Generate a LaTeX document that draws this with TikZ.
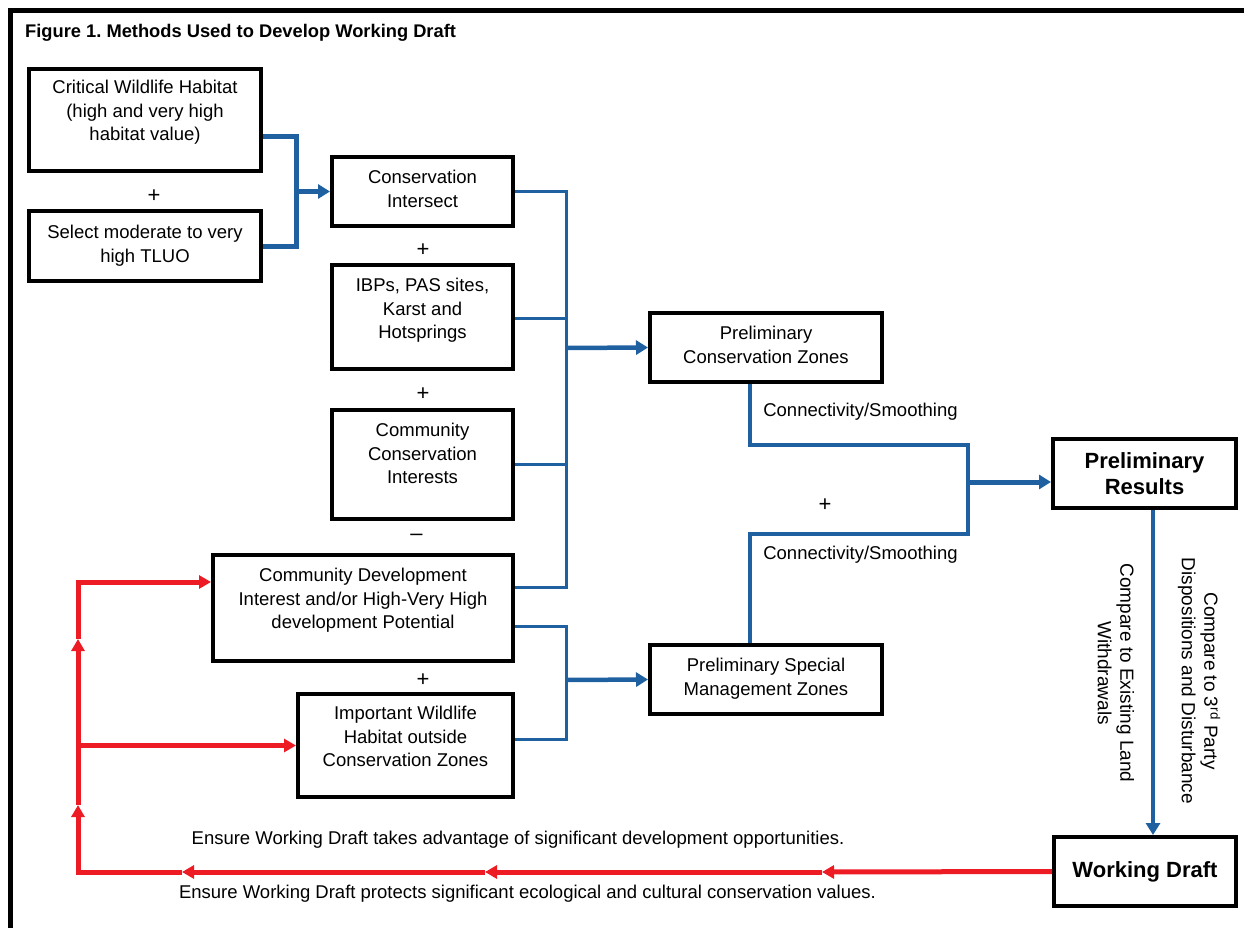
\documentclass[tikz,border=0pt]{standalone}
\usepackage{fontspec}
\setmainfont{Liberation Sans}
\usetikzlibrary{arrows.meta}
\definecolor{fblue}{RGB}{30,96,160}
\definecolor{fred}{RGB}{237,28,36}
\frenchspacing
\begin{document}
\begin{tikzpicture}[x=1pt,y=-1pt,
  box/.style={draw, line width=4pt, inner sep=0pt, fill=white},
  txt/.style={font=\fontsize{18.5}{23.5}\selectfont, align=center, inner sep=0pt},
  sign/.style={font=\fontsize{22}{26}\selectfont, inner sep=0pt, anchor=base},
  bigtxt/.style={font=\fontsize{22}{26}\selectfont\bfseries, align=center},
  rottxt/.style={font=\fontsize{19}{22.5}\selectfont, align=center, inner sep=0pt, rotate=-90},
  bthick/.style={draw=fblue, line width=5pt},
  bmid/.style={draw=fblue, line width=3.5pt},
  bthin/.style={draw=fblue, line width=3pt},
  btip/.style={-{Triangle[length=12pt,width=14pt]}},
  rline/.style={draw=fred, line width=5pt},
  rtip/.style={-{Triangle[length=12pt,width=13pt]}},
]
\path[use as bounding box] (0,0) rectangle (1244,928);
% outer frame (open at right and bottom)
\draw[line width=5pt] (1260,10.5) -- (10.5,10.5) -- (10.5,945);
\node[anchor=base west, inner sep=0pt, font=\fontsize{18.3}{22}\selectfont\bfseries] (title) at (25,38) {Figure 1. Methods Used to Develop Working Draft};

% boxes
\node[box, minimum width=232pt, minimum height=102pt] (b1) at (145,120) {};
\node[box, minimum width=232pt, minimum height=70pt] (b2) at (145,246) {};
\node[box, minimum width=181pt, minimum height=69pt] (b3) at (422.5,191.5) {};
\node[box, minimum width=181pt, minimum height=104pt] (b4) at (422.5,317) {};
\node[box, minimum width=181pt, minimum height=109pt] (b5) at (422.5,464.5) {};
\node[box, minimum width=300pt, minimum height=106pt] (b6) at (363,608) {};
\node[box, minimum width=215pt, minimum height=103pt] (b7) at (405.5,745.5) {};
\node[box, minimum width=232pt, minimum height=69pt] (pcz) at (766,347.5) {};
\node[box, minimum width=232pt, minimum height=69pt] (psmz) at (766,679.5) {};
\node[box, bigtxt, minimum width=183pt, minimum height=69pt] (pr) at (1144.5,473.5) {Preliminary\\Results};
\node[box, bigtxt, minimum width=182pt, minimum height=69pt] (wd) at (1145,871.5) {Working Draft};

% box texts (top aligned)
\node[txt, anchor=north] (b1t) at (145,80) {Critical Wildlife Habitat\\(high and very high\\habitat value)};
\node[txt, anchor=north] (b2t) at (145,225) {Select moderate to very\\high TLUO};
\node[txt, anchor=north] (b3t) at (422.5,170) {Conservation\\Intersect};
\node[txt, anchor=north] (b4t) at (422.5,278) {IBPs, PAS sites,\\Karst and\\Hotsprings};
\node[txt, anchor=north] (b5t) at (422.5,423) {Community\\Conservation\\Interests};
\node[txt, anchor=north] (b6t) at (363,568) {Community Development\\Interest and/or High-Very High\\development Potential};
\node[txt, anchor=north] (b7t) at (405.5,706) {Important Wildlife\\Habitat outside\\Conservation Zones};
\node[txt, anchor=north] (pczt) at (766,326) {Preliminary\\Conservation Zones};
\node[txt, anchor=north] (psmzt) at (766,658) {Preliminary Special\\Management Zones};

% operators
\node[sign] (p1) at (154,203) {+};
\node[sign] (p2) at (423,256) {+};
\node[sign] (p3) at (423,400) {+};
\node[sign] (m1s) at (416.5,540) {–};
\node[sign] (p4) at (423,686) {+};
\node[sign] (p5) at (825,511) {+};

% labels
\node[txt, anchor=base] (cs1) at (860.5,416.5) {Connectivity/Smoothing};
\node[txt, anchor=base] (cs2) at (860.5,559.5) {Connectivity/Smoothing};
\node[txt, anchor=base] (e1) at (518,844) {Ensure Working Draft takes advantage of significant development opportunities.};
\node[txt, anchor=base] (e2) at (527.5,898) {Ensure Working Draft protects significant ecological and cultural conservation values.};
\node[rottxt] (c3) at (1199,681) {Compare to 3\textsuperscript{rd} Party\\Dispositions and Disturbance};
\node[rottxt] (cl) at (1116,673) {Compare to Existing Land\\Withdrawals};

% blue connectors
\coordinate (j1) at (296,191.5);
\draw[bthick] ([yshift=-17pt]b1.east) -| (j1) |- (b2.east);
\draw[bthick, btip] (j1) -- (b3.west);

\coordinate (u1) at (566,348);
\draw[bthin] (b3.east) -| (u1) |- ([yshift=21pt]b6.east);
\draw[bthin] ([yshift=-1pt]b4.east) -- ([yshift=-1pt]b4.east -| u1);
\draw[bthin] (b5.east) -- (b5.east -| u1);
\draw[bthick, line width=4.5pt, btip] (u1) -- (pcz.west);

\coordinate (u2) at (566,680);
\draw[bthin] ([yshift=-18pt]b6.east) -| (u2) |- ([yshift=6.5pt]b7.east);
\draw[bthick, line width=4.5pt, btip] (u2) -- (psmz.west);

\coordinate (k1) at (968,445);
\coordinate (k2) at (968,534);
\coordinate (m1) at (968,482);
\draw[bmid] ([xshift=-16pt]pcz.south) |- (k1) -- (k2) -| ([xshift=-16pt]psmz.north);
\draw[bthick, btip] (m1) -- (m1 -| pr.west);
\draw[bthick, line width=4.5pt, btip] ([xshift=8.5pt]pr.south) -- ([xshift=8pt]wd.north);

% red feedback connectors
\coordinate (r1) at (822,872);
\coordinate (r2) at (485,872);
\coordinate (r3) at (182,872);
\coordinate (rc) at (78,872);
\coordinate (v1) at (78,805);
\coordinate (v2) at (78,639);
\coordinate (rt) at (78,582);
\coordinate (rb) at (78,745.5);
\draw[rline, rtip] (wd.west) -- (r1);
\draw[rline, rtip] (r1) -- (r2);
\draw[rline, rtip] (r2) -- (r3);
\draw[rline, rtip] (r3) -- (rc) -- (v1);
\draw[rline, rtip] (v1) -- (v2);
\draw[rline, rtip] (v2) -- (rt) -- (rt -| b6.west);
\draw[rline, rtip] (rb) -- (b7.west);
\end{tikzpicture}
\end{document}
